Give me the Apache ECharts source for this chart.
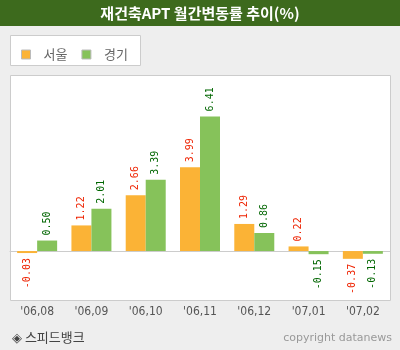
<!DOCTYPE html>
<html>
<head>
<meta charset="utf-8">
<script src="https://cdn.jsdelivr.net/npm/echarts@6/dist/echarts.min.js"></script>
<style>
  html, body { margin: 0; padding: 0; background: #eeeeee; }
  #chart { width: 400px; height: 350px; }
</style>
</head>
<body>
<div id="chart"></div>
<script>
// Monthly change rate of reconstruction apartments (%)
const months = ["'06,08", "'06,09", "'06,10", "'06,11", "'06,12", "'07,01", "'07,02"];
const seoul = [-0.03, 1.22, 2.66, 3.99, 1.29, 0.22, -0.37];
const gyeonggi = [0.50, 2.01, 3.39, 6.41, 0.86, -0.15, -0.13];
const seriesNames = ['서울', '경기'];

const chart = echarts.init(document.getElementById('chart'));

// Positive values get their label above the bar, negative ones below it.
function labelled(values, color) {
  return values.map(v => ({
    value: v,
    label: v < 0
      ? { position: 'bottom', align: 'right', verticalAlign: 'middle', color: color }
      : { position: 'top', align: 'left', verticalAlign: 'middle', color: color }
  }));
}

const labelBase = {
  show: true,
  rotate: 90,
  distance: 5,
  fontFamily: 'DejaVu Sans Mono',
  fontSize: 10,
  formatter: p => p.value.toFixed(2)
};

chart.setOption({
  animation: false,
  backgroundColor: '#eeeeee',
  graphic: [
    { type: 'rect', shape: { x: 0, y: 0, width: 400, height: 26 }, style: { fill: '#3d6a1d' }, z: 0 },
    { type: 'text', x: 200, y: 13, style: { text: '재건축APT 월간변동률 추이(%)', fill: '#ffffff', font: 'bold 15px "Noto Sans CJK KR"', align: 'center', verticalAlign: 'middle' }, z: 1 },
    { type: 'rect', shape: { x: 10.5, y: 35.5, width: 130, height: 30 }, style: { fill: '#ffffff', stroke: '#cccccc', lineWidth: 1 }, z: 0 },
    { type: 'rect', shape: { x: 10.5, y: 75.5, width: 380, height: 225 }, style: { fill: '#ffffff', stroke: '#cccccc', lineWidth: 1 }, z: 0 },
    { type: 'text', x: 12, y: 337, style: { text: '◈ 스피드뱅크', fill: '#444444', font: '13px "Noto Sans CJK KR"', verticalAlign: 'middle' }, z: 1 },
    { type: 'text', x: 392, y: 338, style: { text: 'copyright datanews', fill: '#999999', font: '11px "DejaVu Sans"', align: 'right', verticalAlign: 'middle' }, z: 1 }
  ],
  legend: {
    left: 16, top: 43,
    itemWidth: 9, itemHeight: 9,
    itemGap: 14,
    icon: 'rect',
    itemStyle: { borderColor: '#bbbbbb', borderWidth: 1 },
    textStyle: { color: '#666666', fontSize: 13, fontFamily: 'Noto Sans CJK KR', padding: [0, 0, 0, 8] },
    data: seriesNames
  },
  grid: { left: 10, right: 10, top: 75, bottom: 50, containLabel: false },
  xAxis: {
    type: 'category',
    data: months,
    axisLine: { lineStyle: { color: '#cccccc' } },
    axisTick: { inside: true, length: 5, lineStyle: { color: '#999999' } },
    axisLabel: { color: '#555555', fontSize: 12, fontFamily: 'DejaVu Sans Condensed', margin: 6 }
  },
  yAxis: {
    type: 'value',
    min: -2.33, max: 8.38,
    show: false,
    splitLine: { show: false }
  },
  series: [
    {
      name: seriesNames[0], type: 'bar', barWidth: 20, barGap: '0%', barMinHeight: 2,
      itemStyle: { color: '#fbb336' },
      label: Object.assign({}, labelBase, { color: '#ee2200' }),
      data: labelled(seoul, '#ee2200')
    },
    {
      name: seriesNames[1], type: 'bar', barWidth: 20, barMinHeight: 2,
      itemStyle: { color: '#86c25a' },
      label: Object.assign({}, labelBase, { color: '#006600' }),
      data: labelled(gyeonggi, '#006600')
    }
  ]
});
</script>
</body>
</html>
